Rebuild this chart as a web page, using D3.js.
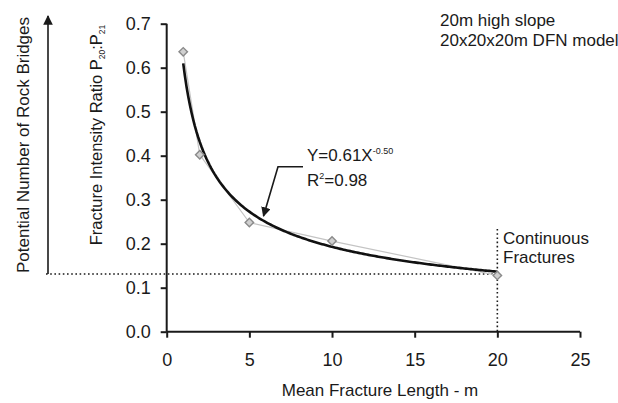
<!DOCTYPE html>
<html><head><meta charset="utf-8">
<script src="https://cdn.jsdelivr.net/npm/d3@7"></script>
<style>body{margin:0;background:#fff}svg{display:block;font-family:"Liberation Sans",Arial,sans-serif}</style>
</head><body><svg id="c" width="618" height="403"></svg>
<script>
const lengths = [1, 2, 5, 10, 20];
const ratios = [0.636, 0.402, 0.248, 0.206, 0.128];
const fitA = 0.61, fitB = -0.5;
const xTicks = [0, 5, 10, 15, 20, 25];
const yTicks = [0, 0.1, 0.2, 0.3, 0.4, 0.5, 0.6, 0.7];
const continuousLevel = 0.131;

const svg = d3.select("#c");
const x = d3.scaleLinear().domain([0, 25]).range([166.7, 580]);
const y = d3.scaleLinear().domain([0, 0.7]).range([331.7, 23.7]);
const ink = "#1a1a1a";

// axes
const yAx = svg.append("g").attr("transform", `translate(${x(0)},0)`)
  .call(d3.axisLeft(y).tickValues(yTicks).tickFormat(d3.format(".1f")).tickSize(6).tickPadding(10));
const xAx = svg.append("g").attr("transform", `translate(0,${y(0)})`)
  .call(d3.axisBottom(x).tickValues(xTicks).tickFormat(d3.format("d")).tickSize(6).tickPadding(16));
[yAx, xAx].forEach(g => {
  g.select(".domain").attr("stroke", ink).attr("stroke-width", 2);
  g.selectAll(".tick line").attr("stroke", ink).attr("stroke-width", 2);
  g.selectAll(".tick text").attr("fill", ink).attr("font-size", 18).attr("font-family", "Liberation Sans, Arial, sans-serif");
});
xAx.select(".domain").attr("d", `M${x(0)},0H${x(25)}`);
yAx.select(".domain").attr("d", `M0,${y(0.7)}V${y(0)}`);

// dotted reference lines
svg.append("line").attr("x1", 46).attr("x2", x(20)).attr("y1", y(continuousLevel)).attr("y2", y(continuousLevel))
  .attr("stroke", ink).attr("stroke-width", 1.6).attr("stroke-dasharray", "1.6,2.6");
svg.append("line").attr("x1", x(20)).attr("x2", x(20)).attr("y1", 229).attr("y2", y(0))
  .attr("stroke", ink).attr("stroke-width", 1.6).attr("stroke-dasharray", "1.6,2.6");

// left arrow
svg.append("defs").append("marker").attr("id", "ah").attr("viewBox", "0 0 10 10").attr("refX", 9).attr("refY", 5)
  .attr("markerWidth", 6).attr("markerHeight", 6).attr("orient", "auto")
  .append("path").attr("d", "M0,0L10,5L0,10z").attr("fill", ink);
svg.append("line").attr("x1", 48).attr("x2", 48).attr("y1", y(continuousLevel)).attr("y2", 16)
  .attr("stroke", ink).attr("stroke-width", 1.6).attr("marker-end", "url(#ah)");

// gray connecting line
const pts = lengths.map((d, i) => [d, ratios[i]]);
svg.append("path").datum(pts).attr("fill", "none").attr("stroke", "#c4c4c4").attr("stroke-width", 1.2)
  .attr("d", d3.line().x(d => x(d[0])).y(d => y(d[1])));

// fitted power curve
const fitX = d3.range(1, 20.01, 0.1);
svg.append("path").datum(fitX).attr("fill", "none").attr("stroke", "#111").attr("stroke-width", 2.6)
  .attr("d", d3.line().x(d => x(d)).y(d => y(fitA * Math.pow(d, fitB))));

// markers
svg.selectAll(".pt").data(pts).enter().append("path")
  .attr("transform", d => `translate(${x(d[0])},${y(d[1])}) rotate(45)`)
  .attr("d", d3.symbol(d3.symbolSquare, 36)())
  .attr("fill", "#d0d0d0").attr("stroke", "#8a8a8a").attr("stroke-width", 1.4);

// annotation arrow
svg.append("path").attr("d", `M303,166.7H278L263.5,216`).attr("fill", "none")
  .attr("stroke", ink).attr("stroke-width", 1.6).attr("marker-end", "url(#ah)");

const t = (xx, yy, s, fs, anchor) => svg.append("text").attr("x", xx).attr("y", yy).text(s)
  .attr("font-size", fs).attr("fill", ink).attr("text-anchor", anchor || "start");

const eq = svg.append("text").attr("x", 307).attr("y", 161).attr("font-size", 17).attr("fill", ink);
eq.append("tspan").text("Y=0.61X");
eq.append("tspan").text("-0.50").attr("font-size", 9).attr("dy", -7);
const r2 = svg.append("text").attr("x", 307).attr("y", 186).attr("font-size", 17).attr("fill", ink);
r2.append("tspan").text("R");
r2.append("tspan").text("2").attr("font-size", 9).attr("dy", -7);
r2.append("tspan").text("=0.98").attr("dy", 7);

t(440, 26, "20m high slope", 17);
t(440, 46, "20x20x20m DFN model", 17);
t(503, 244, "Continuous", 17);
t(503, 263, "Fractures", 17);
t(380, 396, "Mean Fracture Length - m", 17, "middle");

// rotated titles
svg.append("text").attr("transform", "translate(29,145) rotate(-90)").attr("text-anchor", "middle")
  .attr("font-size", 17).attr("fill", ink).text("Potential Number of Rock Bridges");
const yt = svg.append("text").attr("transform", "translate(102,135) rotate(-90)").attr("text-anchor", "middle")
  .attr("font-size", 16.5).attr("fill", ink);
yt.append("tspan").text("Fracture Intensity Ratio P");
yt.append("tspan").text("20").attr("font-size", 8.5).attr("dy", 3);
yt.append("tspan").text(":P").attr("dy", -3);
yt.append("tspan").text("21").attr("font-size", 8.5).attr("dy", 3);
</script></body></html>
